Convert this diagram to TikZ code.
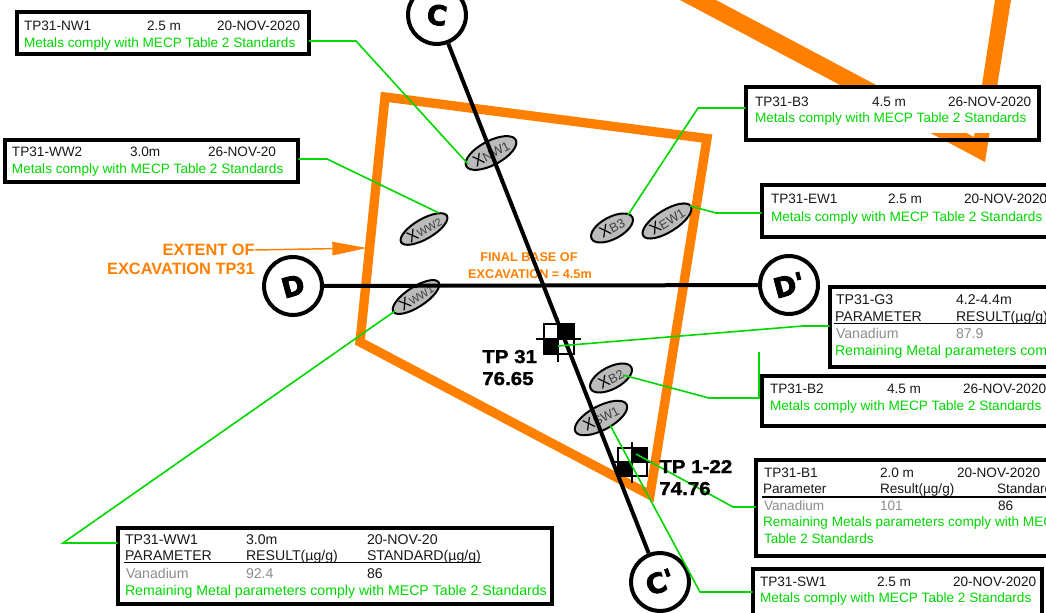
\documentclass[tikz,border=0pt]{standalone}
\usepackage{fontspec}
\setmainfont{Liberation Sans}
\newfontfamily\fatfont[UprightFont=* Bold,FakeBold=3]{DejaVu Sans}
\newfontfamily\tpfont[UprightFont=* Bold,FakeStretch=1.1,FakeBold=1.5]{Liberation Sans}
\usetikzlibrary{shapes.geometric,arrows.meta}
\definecolor{og}{RGB}{255,128,0}
\definecolor{gn}{RGB}{0,215,0}
\definecolor{gy}{RGB}{140,140,140}
\definecolor{el}{RGB}{187,187,187}
\tikzset{
  tx/.style={anchor=base west,inner sep=0pt,outer sep=0pt,font=\fontsize{10.2}{12}\selectfont,text=black!90},
  grn/.style={tx,text=gn},
  gry/.style={tx,text=gy},
  big/.style={font=\fontsize{10.6}{12}\selectfont},
  box/.style={draw=black,line width=3pt,anchor=north west,inner sep=0pt,outer sep=0pt,miter limit=10},
  gline/.style={draw=gn,line width=1.2pt},
  bline/.style={draw=black,line width=3pt},
  smp/.style={ellipse,draw=black,line width=1.5pt,fill=el,inner sep=0pt,font=\fontsize{9.6}{10}\selectfont,text=black!75},
  smpw/.style={smp,font=\fontsize{8.2}{10}\selectfont},
  sec/.style={circle,draw=black,line width=3pt,fill=white,minimum size=43.5pt,inner sep=0pt,font=\fatfont\fontsize{20.5}{21}\selectfont},
  otx/.style={inner sep=0pt,text=og,font=\bfseries\fontsize{12.3}{14}\selectfont},
  otxs/.style={inner sep=0pt,text=og,font=\bfseries\fontsize{9.5}{12}\selectfont},
  tp/.style={inner sep=0pt,anchor=base west,font=\tpfont\fontsize{14}{16}\selectfont,text=black},
}
\newcommand\tx[5]{\node[#4] (#1) at (#2,#3+1) {#5};}
\newcommand\bigx{{\fontsize{12}{12}\selectfont\color{black}X}}
\begin{document}
\begin{tikzpicture}[x=0.75pt,y=-0.75pt]
\useasboundingbox (0,0) rectangle (1046,613);
\clip (0,0) rectangle (1046,613);
\fill[white] (0,0) rectangle (1046,613);
% orange excavation outlines
\fill[og] (680,0) -- (716,0) -- (974,137) -- (995,0) -- (1011,0) -- (985,162) -- cycle;
\fill[white] (744,86) rectangle (1041,133);
\draw[og,line width=7pt,miter limit=10] (385,97) -- (707,138.5) -- (650,495) -- (360,342) -- cycle;
% orange labels
\node[otx,anchor=east] (ex1) at (255,250) {EXTENT OF};
\node[otx,anchor=east] (ex2) at (255,269) {EXCAVATION TP31};
\coordinate (exT) at (367,248);
\draw[og,line width=1.1pt,-{Triangle[length=26pt,width=10pt]}] (ex1.east) -- (exT);
\node[otxs] (fb1) at (529,257) {FINAL BASE OF};
\node[otxs] (fb2) at (530,274) {EXCAVATION = 4.5m};
% samples
\node[smp,minimum width=42pt,minimum height=18pt,rotate=28] (eNW1) at (491,153) {\bigx NW1};
\node[smpw,minimum width=39pt,minimum height=15pt,rotate=30] (eWW2) at (424,229) {\bigx WW2};
\node[smp,minimum width=34.5pt,minimum height=16.5pt,rotate=28] (eB3) at (612,228) {\bigx B3};
\node[smp,minimum width=42pt,minimum height=16.5pt,rotate=32] (eEW1) at (667,221) {\bigx EW1};
\node[smpw,minimum width=40.5pt,minimum height=15pt,rotate=33] (eWW1) at (416,297) {\bigx WW1};
\node[smp,minimum width=34.5pt,minimum height=16.5pt,rotate=28] (eB2) at (611,378) {\bigx B2};
\node[smp,minimum width=43.5pt,minimum height=18pt,rotate=28] (eSW1) at (601,418) {\bigx SW1};
% test pit symbols
\draw[black,line width=1.8pt] (544,324) rectangle (574,354);
\fill[black] (559,324) rectangle (574,339);
\fill[black] (544,339) rectangle (559,354);
\draw[black,line width=1.2pt] (536,339) -- (581,339) (558,318) -- (558,362);
\draw[black,line width=1.8pt] (618,448) rectangle (647,476);
\fill[black] (632,448) rectangle (647,462);
\fill[black] (618,462) rectangle (632,476);
\draw[black,line width=1.2pt] (613,462) -- (652,462) (632,442) -- (632,483);
% section markers
\node[sec,rotate=-8] (C) at (437,15) {C};
\node[sec,rotate=20] (Cp) at (660,582) {C'};
\node[sec,rotate=15] (D) at (293,286) {D};
\node[sec,rotate=15] (Dp) at (789,285) {D'};
\draw[bline] (C) -- (Cp);
\draw[bline] (D) -- (Dp);
% boxes
\node[box,minimum width=219pt,minimum height=31.5pt] (bNW1) at (16.5,12.5) {};
\node[box,minimum width=220pt,minimum height=31.5pt] (bWW2) at (5,140.5) {};
\node[box,minimum width=220pt,minimum height=39.5pt] (bB3) at (745.5,87.5) {};
\node[box,minimum width=260pt,minimum height=38.5pt] (bEW1) at (761.5,185.5) {};
\node[box,minimum width=260pt,minimum height=60pt] (bG3) at (829.5,286.5) {};
\node[box,minimum width=260pt,minimum height=37.5pt] (bB2) at (761.5,375.5) {};
\node[box,minimum width=260pt,minimum height=72pt] (bB1) at (755.5,459.5) {};
\node[box,minimum width=217pt,minimum height=50pt] (bSW1) at (752.5,568.5) {};
\node[box,minimum width=326pt,minimum height=57pt] (bWW1) at (117.5,527.5) {};
% connectors
\coordinate (tNW1) at (468,164);
\coordinate (kNW1) at (356,41);
\coordinate (tWW2) at (439,213);
\coordinate (kWW2) at (327,159);
\coordinate (tWW1) at (395,311);
\coordinate (kWW1) at (63,543);
\coordinate (tB3) at (628,215);
\coordinate (kB3) at (698,108);
\coordinate (tEW1) at (690,206);
\coordinate (kEW1) at (716,213);
\coordinate (tG3) at (558,346);
\coordinate (kG3) at (803,326);
\coordinate (tB2) at (623,375);
\coordinate (kB2) at (709,398);
\coordinate (vB2) at (759,352);
\coordinate (tB1) at (636,454);
\coordinate (kB1) at (733,507);
\coordinate (tSW1) at (610,425);
\coordinate (kSW1) at (700,592);
\draw[gline] (bNW1.east |- kNW1) -- (kNW1) -- (tNW1);
\draw[gline] (bWW2.east |- kWW2) -- (kWW2) -- (tWW2);
\draw[gline] (bWW1.west |- kWW1) -- (kWW1) -- (tWW1);
\draw[gline] (bB3.west |- kB3) -- (kB3) -- (tB3);
\draw[gline] (bEW1.west |- kEW1) -- (kEW1) -- (tEW1);
\draw[gline] (bG3.west |- kG3) -- (kG3) -- (tG3);
\draw[gline] (vB2) -- (vB2 |- kB2) -- (kB2) -- (tB2);
\draw[gline] (bB1.west |- kB1) -- (kB1) -- (tB1);
\draw[gline] (bSW1.west |- kSW1) -- (kSW1) -- (tSW1);
% box text
\tx{a1}{24}{30}{tx}{TP31-NW1}\tx{a2}{147}{30}{tx}{2.5 m}\tx{a3}{217}{30}{tx}{20-NOV-2020}
\tx{a4}{24}{47}{grn}{Metals comply with MECP Table 2 Standards}
\tx{b1}{12}{156}{tx}{TP31-WW2}\tx{b2}{130}{156}{tx}{3.0m}\tx{b3}{208}{156}{tx}{26-NOV-20}
\tx{b4}{12}{173}{grn}{Metals comply with MECP Table 2 Standards}
\tx{c1}{755}{106}{tx}{TP31-B3}\tx{c2}{872}{106}{tx}{4.5 m}\tx{c3}{948}{106}{tx}{26-NOV-2020}
\tx{c4}{755}{122}{grn}{Metals comply with MECP Table 2 Standards}
\tx{d1}{771}{203}{tx}{TP31-EW1}\tx{d2}{888}{203}{tx}{2.5 m}\tx{d3}{964}{203}{tx}{20-NOV-2020}
\tx{d4}{771}{220}{grn}{Metals comply with MECP Table 2 Standards}
\tx{e1}{836}{303}{tx,big}{TP31-G3}\tx{e2}{956}{303}{tx,big}{4.2-4.4m}
\tx{e3}{835}{320}{tx,big}{PARAMETER}\tx{e4}{956}{320}{tx,big}{RESULT(µg/g)}
\tx{e5}{836}{337}{gry,big}{Vanadium}\tx{e6}{956}{337}{gry,big}{87.9}
\tx{e7}{835}{354}{grn,big}{Remaining Metal parameters comply with MECP Table 2 Standards}
\draw[black,line width=0.9pt] (834,323.5) -- (1046,323.5);
\tx{f1}{770}{392}{tx}{TP31-B2}\tx{f2}{887}{392}{tx}{4.5 m}\tx{f3}{963}{392}{tx}{26-NOV-2020}
\tx{f4}{770}{409}{grn}{Metals comply with MECP Table 2 Standards}
\tx{g1}{764}{476}{tx}{TP31-B1}\tx{g2}{880}{476}{tx}{2.0 m}\tx{g3}{957}{476}{tx}{20-NOV-2020}
\tx{g4}{763}{492}{tx}{Parameter}\tx{g5}{880}{492}{tx}{Result(µg/g)}\tx{g6}{997}{492}{tx}{Standard(µg/g)}
\draw[black,line width=0.9pt] (762,497) -- (1046,497);
\tx{g7}{764}{509}{gry}{Vanadium}\tx{g8}{880}{509}{gry}{101}\tx{g9}{998}{509}{tx}{86}
\tx{g10}{763}{525}{grn}{Remaining Metals parameters comply with MECP}
\tx{g11}{764}{542}{grn}{Table 2 Standards}
\tx{h1}{760}{585}{tx}{TP31-SW1}\tx{h2}{877}{585}{tx}{2.5 m}\tx{h3}{953}{585}{tx}{20-NOV-2020}
\tx{h4}{760}{601}{grn}{Metals comply with MECP Table 2 Standards}
\tx{i1}{125}{543}{tx,big}{TP31-WW1}\tx{i2}{246}{543}{tx,big}{3.0m}\tx{i3}{367}{543}{tx,big}{20-NOV-20}
\tx{i4}{125}{559}{tx,big}{PARAMETER}\tx{i5}{246}{559}{tx,big}{RESULT(µg/g)}\tx{i6}{367}{559}{tx,big}{STANDARD(µg/g)}
\draw[black,line width=0.9pt] (124,562.5) -- (481,562.5);
\tx{i7}{126}{577}{gry,big}{Vanadium}\tx{i8}{246}{577}{gry,big}{92.4}\tx{i9}{367}{577}{tx,big}{86}
\tx{i10}{125}{594}{grn,big}{Remaining Metal parameters comply with MECP Table 2 Standards}
% test pit labels
\tx{t1}{482}{362}{tp}{TP 31}\tx{t2}{482}{384}{tp}{76.65}
\tx{t3}{659}{472}{tp}{TP 1-22}\tx{t4}{659}{494}{tp}{74.76}
\end{tikzpicture}
\end{document}
